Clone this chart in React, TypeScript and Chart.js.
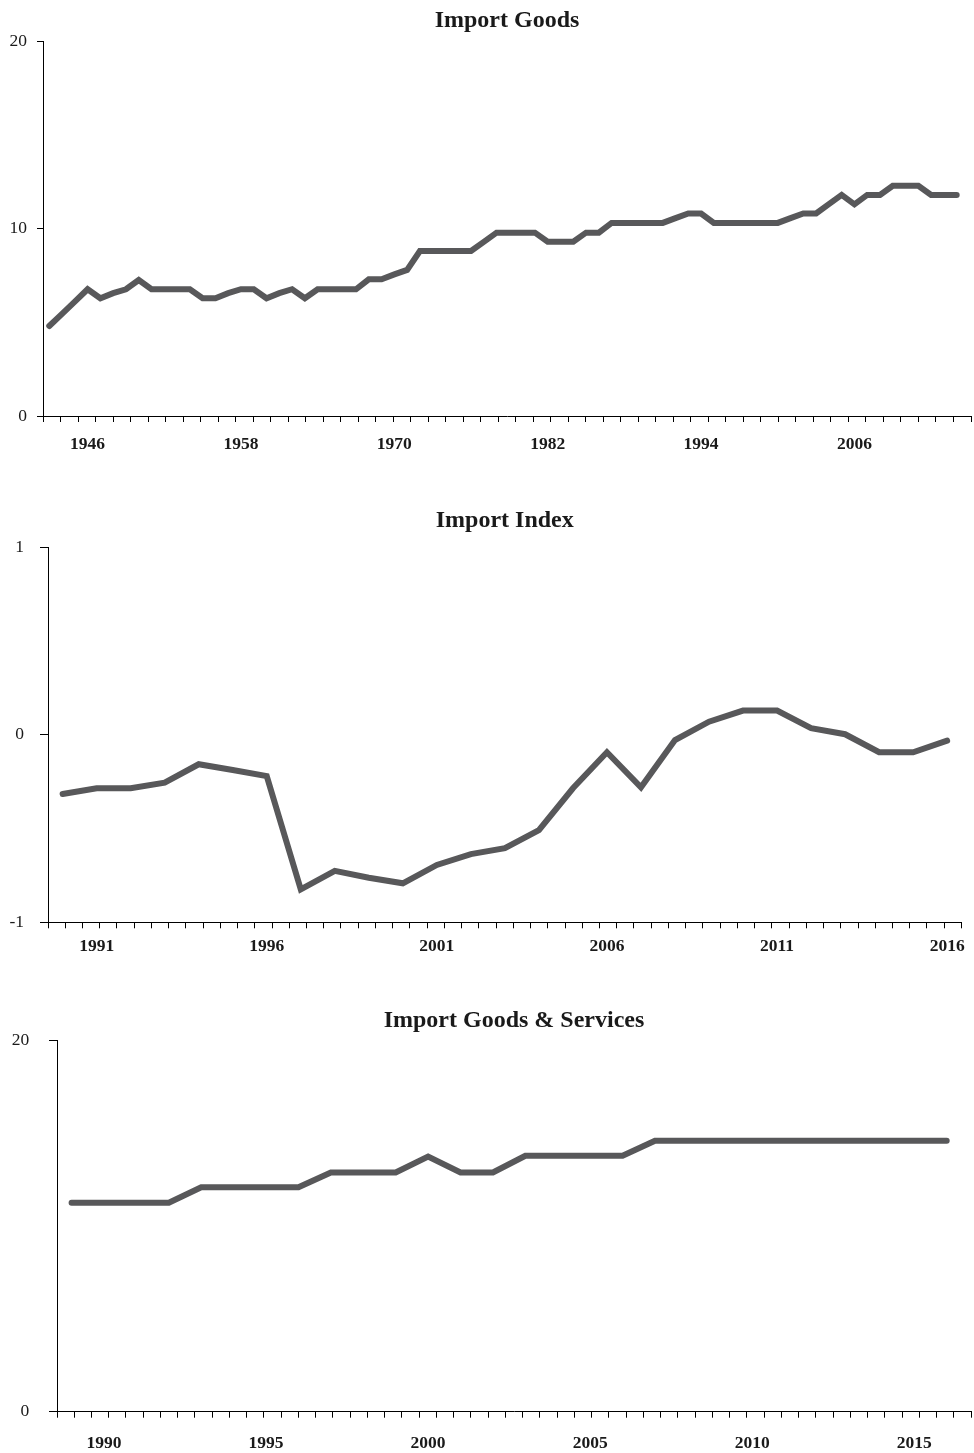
import React, { useEffect, useRef } from 'react';
import { Chart, registerables } from 'chart.js';

Chart.register(...registerables);

const FONT = '"Liberation Serif", "Times New Roman", serif';
const LINE_COLOR = '#58585a';
const TEXT_COLOR = '#1a1a1a';
const AXIS_COLOR = '#000000';
const MINOR_TICK_INTERVALS = 53;
const LABEL_SIZE = 17.5;

// ---- Panel 1: Import Goods (yearly, 1943-2014)
const goodsTitle = 'Import Goods';
const goodsStartYear = 1943;
const goodsValues = [
  4.8, 5.45, 6.1, 6.76, 6.28, 6.55, 6.76, 7.25, 6.76, 6.76,
  6.76, 6.76, 6.28, 6.28, 6.55, 6.76, 6.76, 6.28, 6.55, 6.76,
  6.28, 6.76, 6.76, 6.76, 6.76, 7.29, 7.29, 7.55, 7.79, 8.8,
  8.8, 8.8, 8.8, 8.8, 9.29, 9.78, 9.78, 9.78, 9.78, 9.3,
  9.3, 9.3, 9.78, 9.78, 10.3, 10.3, 10.3, 10.3, 10.3, 10.55,
  10.8, 10.8, 10.3, 10.3, 10.3, 10.3, 10.3, 10.3, 10.55, 10.8,
  10.8, 11.3, 11.79, 11.29, 11.79, 11.79, 12.28, 12.28, 12.28, 11.79,
  11.79, 11.79,
];
const goodsTickYears = [1946, 1958, 1970, 1982, 1994, 2006];
const goodsYTicks = [0, 10, 20];

// ---- Panel 2: Import Index (yearly, 1990-2016)
const indexTitle = 'Import Index';
const indexStartYear = 1990;
const indexValues = [
  -0.316, -0.285, -0.285, -0.255, -0.157, -0.188, -0.22, -0.824, -0.726, -0.762,
  -0.792, -0.694, -0.636, -0.605, -0.508, -0.285, -0.093, -0.28, -0.028, 0.07,
  0.129, 0.129, 0.035, 0.003, -0.093, -0.093, -0.031,
];
const indexTickYears = [1991, 1996, 2001, 2006, 2011, 2016];
const indexYTicks = [-1, 0, 1];

// ---- Panel 3: Import Goods & Services (yearly, 1989-2016)
const gsTitle = 'Import Goods & Services';
const gsStartYear = 1989;
const gsValues = [
  11.27, 11.27, 11.27, 11.27, 12.1, 12.1, 12.1, 12.1, 12.9, 12.9,
  12.9, 13.75, 12.9, 12.9, 13.8, 13.8, 13.8, 13.8, 14.6, 14.6,
  14.6, 14.6, 14.6, 14.6, 14.6, 14.6, 14.6, 14.6,
];
const gsTickYears = [1990, 1995, 2000, 2005, 2010, 2015];
const gsYTicks = [0, 20];

type PanelSpec = {
  title: string;
  startYear: number;
  values: number[];
  tickYears: number[];
  yTicks: number[];
  yMin: number;
  yMax: number;
  xMin: number;
  xMax: number;
  top: number;
  height: number;
  yAxisWidth: number;
  yTickLength: number;
  yLabelPad: number;
  titlePadTop: number;
  titlePadBottom: number;
  xLabelPad: number;
  padBottom: number;
};

const panels: PanelSpec[] = [
  {
    title: goodsTitle, startYear: goodsStartYear, values: goodsValues,
    tickYears: goodsTickYears, yTicks: goodsYTicks, yMin: 0, yMax: 20,
    xMin: 1942.51, xMax: 2015.12,
    top: 0, height: 470, yAxisWidth: 43, yTickLength: 6, yLabelPad: 10,
    titlePadTop: 6, titlePadBottom: 6.2, xLabelPad: 13.45, padBottom: 17.05,
  },
  {
    title: indexTitle, startYear: indexStartYear, values: indexValues,
    tickYears: indexTickYears, yTicks: indexYTicks, yMin: -1, yMax: 1,
    xMin: 1989.57, xMax: 2016.42,
    top: 500, height: 470, yAxisWidth: 48, yTickLength: 8, yLabelPad: 16,
    titlePadTop: 6, titlePadBottom: 12.5, xLabelPad: 9.15, padBottom: 15.05,
  },
  {
    title: gsTitle, startYear: gsStartYear, values: gsValues,
    tickYears: gsTickYears, yTicks: gsYTicks, yMin: 0, yMax: 20,
    xMin: 1988.55, xMax: 2016.75,
    top: 1000, height: 453, yAxisWidth: 57, yTickLength: 8, yLabelPad: 19.7,
    titlePadTop: 6, titlePadBottom: 5.9, xLabelPad: 16.85, padBottom: 0.95,
  },
];

function Panel({ spec }: { spec: PanelSpec }) {
  const ref = useRef<HTMLCanvasElement>(null);

  useEffect(() => {
    if (!ref.current) return;
    const points = spec.values.map((v, i) => ({ x: spec.startYear + i, y: v }));
    const chart = new Chart(ref.current, {
      type: 'line',
      data: {
        datasets: [
          {
            data: points,
            borderColor: LINE_COLOR,
            backgroundColor: LINE_COLOR,
            borderWidth: 6,
            pointRadius: 0,
            tension: 0,
            fill: false,
            borderCapStyle: 'round',
            borderJoinStyle: 'miter',
            xAxisID: 'x',
            yAxisID: 'y',
          },
        ],
      },
      options: {
        responsive: false,
        animation: false,
        devicePixelRatio: 1,
        events: [],
        layout: { padding: { left: 0, right: 3, top: 0, bottom: spec.padBottom } },
        plugins: {
          legend: { display: false },
          tooltip: { enabled: false },
          title: {
            display: true,
            text: spec.title,
            fullSize: false,
            color: TEXT_COLOR,
            font: { family: FONT, size: 24, weight: 'bold', lineHeight: 1.2 },
            padding: { top: spec.titlePadTop, bottom: spec.titlePadBottom },
          },
        },
        scales: {
          x2: {
            type: 'linear',
            axis: 'x',
            position: 'bottom',
            weight: 0,
            min: 0,
            max: MINOR_TICK_INTERVALS,
            afterBuildTicks: (s: any) => {
              s.ticks = Array.from({ length: MINOR_TICK_INTERVALS + 1 }, (_, i) => ({ value: i }));
            },
            afterFit: (s: any) => {
              s.height = 6;
            },
            ticks: { display: false },
            grid: {
              display: true,
              drawOnChartArea: false,
              drawTicks: true,
              tickLength: 6,
              color: AXIS_COLOR,
              lineWidth: 1,
            },
            border: { display: true, color: AXIS_COLOR, width: 1 },
          },
          x: {
            type: 'linear',
            position: 'bottom',
            weight: 1,
            min: spec.xMin,
            max: spec.xMax,
            afterBuildTicks: (s: any) => {
              s.ticks = spec.tickYears.map((v) => ({ value: v }));
            },
            afterFit: (s: any) => {
              s.height = LABEL_SIZE + spec.xLabelPad;
            },
            ticks: {
              autoSkip: false,
              maxRotation: 0,
              minRotation: 0,
              padding: spec.xLabelPad,
              color: TEXT_COLOR,
              font: { family: FONT, size: LABEL_SIZE, weight: 'bold', lineHeight: 1 },
              callback: (v: any) => String(v),
            },
            grid: { display: false, drawTicks: false },
            border: { display: false },
          },
          y: {
            type: 'linear',
            position: 'left',
            min: spec.yMin,
            max: spec.yMax,
            afterBuildTicks: (s: any) => {
              s.ticks = spec.yTicks.map((v) => ({ value: v }));
            },
            afterFit: (s: any) => {
              s.width = spec.yAxisWidth;
            },
            ticks: {
              padding: spec.yLabelPad,
              color: TEXT_COLOR,
              font: { family: FONT, size: LABEL_SIZE, lineHeight: 1.2 },
              callback: (v: any) => String(v),
            },
            grid: {
              display: true,
              drawOnChartArea: false,
              drawTicks: true,
              tickLength: spec.yTickLength,
              color: AXIS_COLOR,
              lineWidth: 1,
            },
            border: { display: true, color: AXIS_COLOR, width: 1 },
          },
        },
      } as any,
    });
    return () => chart.destroy();
  }, [spec]);

  return (
    <canvas
      ref={ref}
      width={974}
      height={spec.height}
      style={{ position: 'absolute', left: 0, top: spec.top, display: 'block' }}
    />
  );
}

export default function App() {
  return (
    <div
      style={{
        position: 'absolute',
        left: 0,
        top: 0,
        width: 974,
        height: 1453,
        background: '#ffffff',
        overflow: 'hidden',
      }}
    >
      {panels.map((p) => (
        <Panel key={p.title} spec={p} />
      ))}
    </div>
  );
}
